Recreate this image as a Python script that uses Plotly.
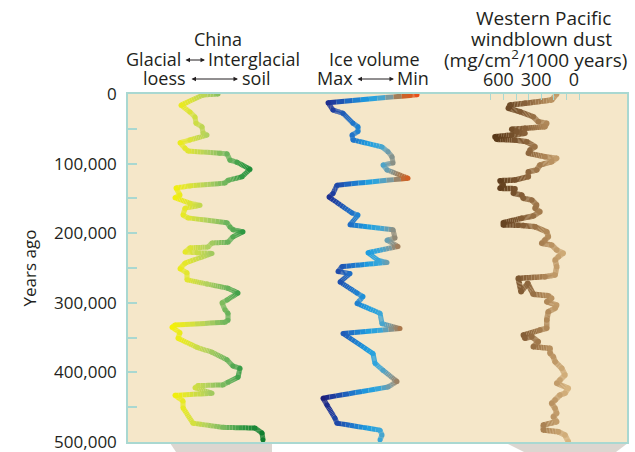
import plotly.graph_objects as go
from plotly.colors import sample_colorscale

# ---------------- data ----------------
# China loess/soil record: years ago (thousands) and relative loess->soil index
china_years_k = [0, 1.4, 16, 26, 33, 42, 47, 56, 59, 66,
                 70, 78, 82, 85, 86, 95, 98, 108, 119, 124,
                 128, 132, 135, 145, 149, 157, 160, 164, 174, 178,
                 185, 191, 195, 198, 205, 213, 214, 220, 221, 227,
                 228, 229, 243, 251, 257, 267, 273, 279, 286, 296,
                 300, 310, 315, 325, 328, 332, 335, 343, 351, 364,
                 371, 382, 391, 394, 407, 414, 418, 419, 422, 430,
                 433, 441, 451, 473, 479, 480, 487, 497]
china_index = [48, 33, 11, 20, 25, 26, 32, 33, 37, 20,
               10, 15, 18, 50, 57, 60, 67, 80, 72, 58,
               55, 20, 6, 10, 5, 20, 30, 15, 13, 18,
               57, 60, 63, 73, 63, 58, 42, 38, 20, 15,
               27, 42, 15, 10, 17, 17, 37, 58, 68, 57,
               52, 55, 58, 58, 55, 5, 2, 10, 8, 27,
               42, 57, 63, 70, 68, 58, 53, 28, 25, 42,
               5, 13, 13, 23, 53, 85, 92, 93]

# Ice volume record: years ago (thousands) and relative index (0 = max ice, 100 = min ice)
ice_years_k = [1, 2, 12.5, 23, 27.7, 42, 47, 54, 59, 66,
               76, 83, 90, 99, 102, 109, 121, 131, 143, 148,
               171, 174, 188, 195, 207, 210, 219, 228, 239, 242,
               248, 255, 258, 270, 286, 291, 301, 315, 330, 337,
               344, 373, 387, 397, 413, 421, 437, 447, 466, 473,
               483, 490, 497]
ice_index = [97, 90, 8, 13, 23, 33, 38, 38, 32, 33,
             62, 68, 72, 73, 63, 67, 88, 17, 13, 9,
             32, 38, 30, 73, 75, 67, 78, 48, 58, 67,
             22, 18, 30, 20, 37, 43, 37, 60, 62, 80,
             23, 53, 55, 63, 77, 68, 3, 7, 15, 17,
             60, 62, 60]

# Western Pacific windblown dust: years ago (thousands), flux (mg/cm2/1000 years)
dust_years_k = [0, 8.6, 13.4, 15.8, 20.5, 25.4, 32.6, 39.8, 42.1, 47,
                49.3, 50.7, 54.2, 56.5, 58.9, 61.4, 65.1, 66.1, 68.5, 75.7,
                80.5, 85.2, 90.1, 92.4, 97.3, 102, 109.2, 111.7, 118.8, 123.6,
                124.6, 130.8, 135.5, 136, 142.7, 145.1, 149.9, 152.3, 159.5, 164.3,
                169.1, 175.3, 178.6, 184.9, 188.2, 188.5, 189, 190.7, 197.9, 205.1,
                209.8, 214.6, 217, 224.2, 228.9, 233.8, 238.5, 248.2, 260.1, 262.5,
                264.8, 284.1, 272, 287.8, 289.8, 293.6, 298.5, 303.3, 308, 312.8,
                324.8, 336.7, 339.1, 346.3, 351, 348.8, 355.9, 363.1, 365.4, 372.6,
                377.5, 384.7, 394.2, 403.8, 411, 415.7, 422.9, 430.1, 432.5, 439.7,
                444.5, 451.6, 458.8, 463.7, 470.9, 475.6, 482.8, 485.3, 490, 499.6]
dust_flux = [177, 217, 429, 548, 561, 468, 363, 323, 256, 270,
             429, 534, 494, 429, 534, 667, 653, 508, 415, 349,
             389, 402, 270, 177, 217, 310, 336, 402, 402, 508,
             627, 601, 627, 508, 521, 455, 442, 375, 336, 349,
             310, 363, 455, 601, 601, 482, 442, 349, 256, 243,
             270, 296, 217, 177, 125, 164, 190, 177, 190, 270,
             482, 460, 407, 363, 244, 217, 256, 177, 190, 244,
             256, 256, 310, 442, 429, 375, 323, 363, 230, 230,
             204, 190, 137, 111, 151, 177, 85, 111, 151, 190,
             217, 190, 177, 204, 177, 283, 283, 164, 111, 85]

year_ticks = [0, 100000, 200000, 300000, 400000, 500000]
year_ticklabels = ["0", "100,000", "200,000", "300,000", "400,000", "500,000"]
year_minor_ticks = [50000, 150000, 250000, 350000, 450000]
dust_ticks = [0, 300, 600]
dust_ticklabels = ["0", "300", "600"]
dust_minor_ticks = [100, 200, 400, 500, 700]

# ---------------- styling ----------------
TEAL = "#a9d8d1"
TXT = "#231f20"
FONT = "Open Sans"
FS = 18
TFS = 17

china_scale = [[0, "#f7f200"], [0.18, "#e2e630"], [0.4, "#b0d060"],
               [0.6, "#6cb45c"], [0.78, "#2a9640"], [1, "#0c7a2c"]]
ice_scale = [[0, "#1b1670"], [0.12, "#1f3a9c"], [0.3, "#1f6cc4"], [0.5, "#1e9ee0"],
             [0.62, "#3ba7d8"], [0.72, "#7a9aa0"], [0.82, "#a87a50"], [0.9, "#d06024"],
             [1, "#e8501a"]]
dust_scale = [[0, "#d8b580"], [0.3, "#b08858"], [0.6, "#876038"], [1, "#583818"]]

fig = go.Figure()


def add_gradient_line(xs, ys, scale, vmin, vmax, width, xaxis, pieces=10, nbins=48):
    """Draw a polyline whose colour follows its x value (colour gradient along the line)."""
    bx = [[] for _ in range(nbins)]
    by = [[] for _ in range(nbins)]
    for i in range(len(xs) - 1):
        x0, x1, y0, y1 = xs[i], xs[i + 1], ys[i], ys[i + 1]
        for k in range(pieces):
            ta, tb = k / pieces, (k + 1) / pieces
            xa, xb = x0 + (x1 - x0) * ta, x0 + (x1 - x0) * tb
            ya, yb = y0 + (y1 - y0) * ta, y0 + (y1 - y0) * tb
            t = min(1, max(0, ((xa + xb) / 2 - vmin) / (vmax - vmin)))
            b = int(round(t * (nbins - 1)))
            bx[b] += [xa, xb, None]
            by[b] += [ya, yb, None]
    cols = sample_colorscale(scale, [b / (nbins - 1) for b in range(nbins)])
    for b in range(nbins):
        if bx[b]:
            fig.add_trace(go.Scatter(x=bx[b], y=by[b], mode="lines",
                                     line=dict(color=cols[b], width=width),
                                     xaxis=xaxis, yaxis="y", hoverinfo="skip",
                                     showlegend=False))
    tv = [min(1, max(0, (v - vmin) / (vmax - vmin))) for v in xs]
    fig.add_trace(go.Scatter(x=xs, y=ys, mode="markers",
                             marker=dict(size=width, color=sample_colorscale(scale, tv),
                                         line=dict(width=0)),
                             xaxis=xaxis, yaxis="y", hoverinfo="skip", showlegend=False))


china_years = [v * 1000 for v in china_years_k]
ice_years = [v * 1000 for v in ice_years_k]
dust_years = [v * 1000 for v in dust_years_k]

add_gradient_line(china_index, china_years, china_scale, 0, 95, 5, "x")
add_gradient_line(ice_index, ice_years, ice_scale, 0, 97, 5, "x3")
add_gradient_line(dust_flux, dust_years, dust_scale, 80, 670, 5.5, "x2")

# plot area in pixels: x 128..627, y 94..442
PL, PR, PT, PB = 128, 627, 94, 442


def px2x(px):
    return (px - PL) / (PR - PL)


def py2y(py):
    return (PB - py) / (PB - PT)


def text(s, px, py, anchor="center", size=FS):
    fig.add_annotation(text=s, x=px2x(px), y=py2y(py), xref="paper", yref="paper",
                       xanchor=anchor, yanchor="middle", showarrow=False,
                       font=dict(family=FONT, size=size, color=TXT))


def arrow(px0, px1, py):
    fig.add_annotation(x=px2x(px1), y=py2y(py), xref="paper", yref="paper",
                       ax=-(px1 - px0), ay=0, axref="pixel", ayref="pixel",
                       text="", showarrow=True, arrowhead=2, arrowside="end+start",
                       arrowsize=0.9, arrowwidth=1, arrowcolor=TXT,
                       standoff=0, startstandoff=0)


# China header
text("China", 218, 39)
text("Glacial", 183, 59, "right")
arrow(184, 205, 60)
text("Interglacial", 206, 59, "left")
text("loess", 188, 78, "right")
arrow(190, 238, 79)
text("soil", 240, 78, "left")
# Ice header
text("Ice volume", 374, 59)
text("Max", 355, 78, "right")
arrow(356, 394, 79)
text("Min", 395, 78, "left")
# Dust header
text("Western Pacific", 543, 18, size=19)
text("windblown dust", 541, 39, size=19)
text("(mg/cm<sup>2</sup>/1000 years)", 535, 59, size=19)

# grey remnants below the panel
fig.add_shape(type="path", xref="paper", yref="paper", layer="below",
              path=f"M {px2x(170)} {py2y(443)} L {px2x(272)} {py2y(443)} "
                   f"L {px2x(272)} {py2y(452)} L {px2x(176)} {py2y(452)} Z",
              fillcolor="#dcd6d0", line=dict(width=0))
fig.add_shape(type="path", xref="paper", yref="paper", layer="below",
              path=f"M {px2x(506)} {py2y(443)} L {px2x(628)} {py2y(443)} "
                   f"L {px2x(616)} {py2y(452)} L {px2x(524)} {py2y(452)} Z",
              fillcolor="#dcd6d0", line=dict(width=0))

fig.update_layout(
    width=635, height=452,
    margin=dict(l=PL, r=635 - PR, t=PT, b=452 - PB, autoexpand=False),
    paper_bgcolor="white", plot_bgcolor="#f5e7c9",
    font=dict(family=FONT, size=FS, color=TXT),
    showlegend=False,
    xaxis=dict(range=[PL - 170, PR - 170], showticklabels=False, ticks="",
               showgrid=False, zeroline=False, showline=True, mirror=True,
               linecolor=TEAL, linewidth=1.5, automargin=False),
    xaxis3=dict(overlaying="x", range=[PL - 320, PR - 320], visible=False),
    xaxis2=dict(overlaying="x", side="top",
                range=[(579 - PL) / 0.126, (579 - PR) / 0.126],
                tickmode="array", tickvals=dust_ticks, ticktext=dust_ticklabels,
                ticks="inside", ticklen=6, tickcolor=TEAL, tickwidth=1,
                minor=dict(tickmode="array", tickvals=dust_minor_ticks, ticks="inside",
                           ticklen=6, tickcolor=TEAL, tickwidth=1),
                ticklabelstandoff=3, ticklabelshift=5, automargin=False,
                showgrid=False, zeroline=False, showline=False,
                tickfont=dict(family=FONT, size=FS, color=TXT)),
    yaxis=dict(range=[500030, -30], tickmode="array", tickvals=year_ticks,
               ticktext=year_ticklabels, ticks="inside", ticklen=9,
               tickcolor=TEAL, tickwidth=1.5,
               minor=dict(tickmode="array", tickvals=year_minor_ticks, ticks="inside",
                          ticklen=9, tickcolor=TEAL, tickwidth=1.5),
               ticklabelstandoff=6, ticklabeloverflow="allow", automargin=False,
               showgrid=False, zeroline=False, showline=True, mirror=True,
               linecolor=TEAL, linewidth=1.5,
               tickfont=dict(family=FONT, size=TFS, color=TXT),
               title=dict(text="Years ago", standoff=13,
                          font=dict(family=FONT, size=TFS, color=TXT))),
)

fig.write_html("out.html")
